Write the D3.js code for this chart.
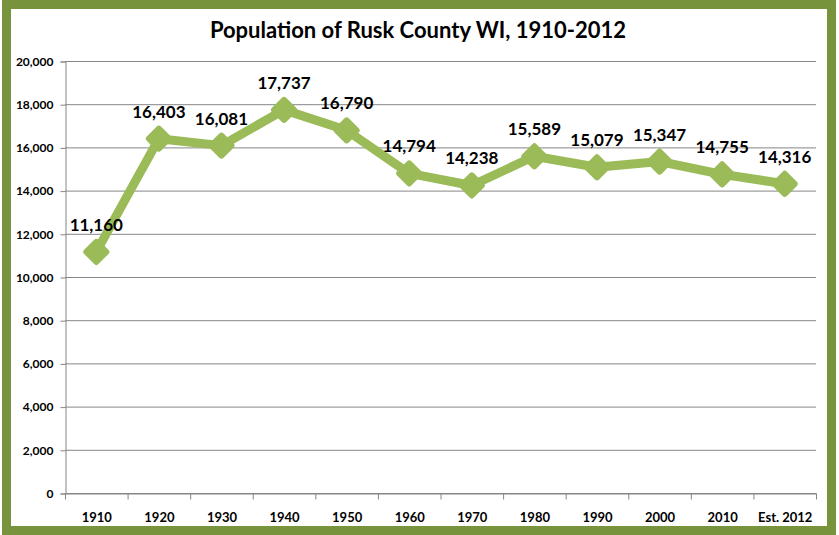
<!DOCTYPE html>
<html>
<head>
<meta charset="utf-8">
<script src="https://cdn.jsdelivr.net/npm/d3@7"></script>
<style>
  body { margin: 0; background: #fff; }
  text { font-family: Lato, "Open Sans", sans-serif; }
</style>
</head>
<body>
<svg id="chart" width="839" height="535"></svg>
<script>
const years = ['1910', '1920', '1930', '1940', '1950', '1960', '1970', '1980', '1990', '2000', '2010', 'Est. 2012']
const population = [11160, 16403, 16081, 17737, 16790, 14794, 14238, 15589, 15079, 15347, 14755, 14316]
const yTicks = [0, 2000, 4000, 6000, 8000, 10000, 12000, 14000, 16000, 18000, 20000]
const chartTitle = 'Population of Rusk County WI, 1910-2012'

const svg = d3.select('#chart')
const plot = {left: 65, right: 816, top: 61, bottom: 493}
const green = '#9BBB59'
const gridColor = '#868686'

// frame
svg.append('rect')
  .attr('x', 6.5).attr('y', 4.5)
  .attr('width', 825).attr('height', 526)
  .attr('fill', '#fff')
  .attr('stroke', '#77933C')
  .attr('stroke-width', 9)

svg.append('text')
  .attr('x', 418).attr('y', 38)
  .attr('text-anchor', 'middle')
  .attr('font-size', 22)
  .attr('font-weight', 'bold')
  .text(chartTitle)

const x = d3.scaleBand().domain(years).range([plot.left, plot.right])
const y = d3.scaleLinear().domain([0, 20000]).range([plot.bottom, plot.top])

// gridlines
svg.append('g').selectAll('line').data(yTicks).enter().append('line')
  .attr('x1', plot.left).attr('x2', plot.right)
  .attr('y1', d => y(d) + 0.5).attr('y2', d => y(d) + 0.5)
  .attr('stroke', gridColor).attr('stroke-width', 1)

// y axis
const yAxis = svg.append('g')
  .attr('transform', `translate(${plot.left + 0.5},0.5)`)
  .call(d3.axisLeft(y).tickValues(yTicks).tickSize(5).tickFormat(d3.format(',')))
yAxis.select('.domain').attr('stroke', gridColor)
yAxis.selectAll('.tick line').attr('stroke', gridColor)
yAxis.selectAll('.tick text')
  .attr('font-family', 'Lato, sans-serif')
  .attr('font-size', 12).attr('font-weight', 'bold').attr('fill', '#000')
  .attr('x', -12)

// x axis
const xAxis = svg.append('g')
  .attr('transform', `translate(0.5,${plot.bottom + 0.5})`)
  .call(d3.axisBottom(x).tickSize(0).tickPadding(19))
xAxis.select('.domain').attr('stroke', gridColor)
xAxis.selectAll('.tick text')
  .attr('font-family', 'Lato, sans-serif')
  .attr('font-size', 13).attr('font-weight', 'bold').attr('fill', '#000')
// tick marks between categories
xAxis.append('g').selectAll('line').data(years.concat(['end'])).enter().append('line')
  .attr('x1', (d, i) => i < years.length ? x(d) : plot.right)
  .attr('x2', (d, i) => i < years.length ? x(d) : plot.right)
  .attr('y1', 0).attr('y2', 6)
  .attr('stroke', gridColor)

const cx = d => x(d) + x.bandwidth() / 2

// series line
const line = d3.line().x((d, i) => cx(years[i])).y(d => y(d))
svg.append('path')
  .datum(population)
  .attr('d', line)
  .attr('fill', 'none')
  .attr('stroke', green)
  .attr('stroke-width', 9)
  .attr('stroke-linejoin', 'round')

// diamond markers
svg.append('g').selectAll('path').data(population).enter().append('path')
  .attr('transform', (d, i) => `translate(${cx(years[i])},${y(d)})`)
  .attr('d', 'M0,-10L10,0L0,10L-10,0Z')
  .attr('fill', green)
  .attr('stroke', green)
  .attr('stroke-width', 6)
  .attr('stroke-linejoin', 'round')

// data labels
svg.append('g').selectAll('text').data(population).enter().append('text')
  .attr('x', (d, i) => cx(years[i]))
  .attr('y', d => y(d) - 21)
  .attr('text-anchor', 'middle')
  .attr('font-size', 17)
  .attr('font-weight', 'bold')
  .text(d => d3.format(',')(d))
</script>
</body>
</html>
